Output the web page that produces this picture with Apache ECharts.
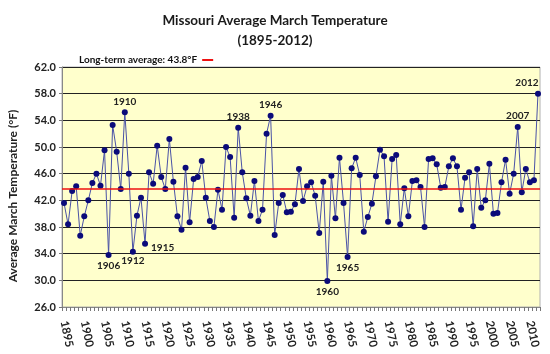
<!DOCTYPE html>
<html><head><meta charset="utf-8">
<script src="https://cdn.jsdelivr.net/npm/echarts@6/dist/echarts.min.js"></script>
<style>html,body{margin:0;padding:0;background:#fff}#c{width:550px;height:354px}</style>
</head><body><div id="c"></div>
<script>
const years = [];
for (let y = 1895; y <= 2012; y++) years.push(String(y));
const temps = [
41.6,38.4,43.4,44.1,36.7,39.6,42.0,44.6,46.0,44.2,
49.5,33.8,53.3,49.3,43.7,55.2,46.0,34.3,39.7,42.4,
35.5,46.2,44.5,50.2,45.5,43.7,51.2,44.8,39.6,37.6,
46.9,38.7,45.2,45.5,47.9,42.4,38.9,38.0,43.6,40.6,
50.0,48.5,39.4,52.9,46.2,42.3,39.7,44.9,38.9,40.6,
52.0,54.7,36.8,41.6,42.8,40.2,40.3,41.4,46.7,41.9,
44.1,44.7,42.7,37.1,44.8,29.9,45.7,39.3,48.4,41.6,
33.5,46.8,48.4,45.8,37.3,39.5,41.5,45.6,49.6,48.6,
38.8,48.2,48.8,38.4,43.8,39.6,44.9,45.0,44.0,38.0,
48.2,48.3,47.4,43.9,44.0,47.1,48.3,47.1,40.6,45.4,
46.2,38.1,46.7,40.9,42.0,47.5,40.0,40.1,44.7,48.1,
43.0,46.0,53.0,43.2,46.7,44.7,45.0,58.0
];
const AVG = 43.8;
const avgName = 'Long-term average: 43.8\u00B0F';
const labelled = {
  '1906': {position:'bottom', offset:[0,0]},
  '1910': {position:'top', offset:[0,0]},
  '1912': {position:'bottom', offset:[0,-2]},
  '1915': {position:'right', offset:[0,4]},
  '1938': {position:'top', offset:[0,0]},
  '1946': {position:'top', offset:[0,0]},
  '1960': {position:'bottom', offset:[0,0]},
  '1965': {position:'bottom', offset:[0,0]},
  '2007': {position:'top', offset:[0,0]},
  '2012': {position:'top', offset:[-11,0]}
};
const seriesData = temps.map((v, i) => {
  const y = years[i];
  if (labelled[y]) {
    return {value: v, label: {show: true, formatter: y, position: labelled[y].position, offset: labelled[y].offset,
      fontFamily: 'Lato', fontWeight: 'bold', fontSize: 10, color: '#222', distance: 3}};
  }
  return v;
});
const chart = echarts.init(document.getElementById('c'), null, {renderer: 'canvas'});
chart.setOption({
  backgroundColor: '#fff',
  animation: false,
  title: {
    text: 'Missouri Average March Temperature\n(1895-2012)',
    left: 'center', top: 6,
    textStyle: {fontFamily: 'Lato', fontWeight: 'bold', fontSize: 13.5, color: '#1a1a1a', lineHeight: 20}
  },
  legend: {
    data: [avgName], left: 74, top: 50, align: 'right',
    itemWidth: 11, itemHeight: 2, icon: 'rect', itemGap: 4,
    textStyle: {fontFamily: 'Lato', fontSize: 10, color: '#111', fontWeight: 'bold'}
  },
  grid: {left: 62, right: 10, top: 67, bottom: 47, show: true, backgroundColor: '#FFFFCC', borderColor: '#b0b0b0', borderWidth: 1, containLabel: false, outerBoundsMode: 'none'},
  xAxis: {
    type: 'category', data: years, boundaryGap: true,
    axisLine: {lineStyle: {color: '#888', width: 1}},
    axisTick: {show: true, interval: 0, length: 4, lineStyle: {color: '#777'}},
    axisLabel: {show: true, interval: 4, rotate: -78, fontFamily: 'Lato', fontWeight: 'bold', fontSize: 11.5, color: '#222', margin: 14, hideOverlap: false},
    splitLine: {show: false}
  },
  yAxis: {
    type: 'value', min: 26, max: 62, interval: 4,
    name: 'Average March Temperature (\u00B0F)', nameLocation: 'middle', nameGap: 43,
    nameTextStyle: {fontFamily: 'Lato', fontWeight: 'bold', fontSize: 12, color: '#222', padding: [0, 18, 0, 0]},
    axisLine: {show: true, lineStyle: {color: '#888'}},
    axisTick: {show: true, length: 3, lineStyle: {color: '#777'}},
    axisLabel: {formatter: v => v.toFixed(1), fontFamily: 'Lato', fontWeight: 'bold', fontSize: 11, color: '#222', margin: 6},
    splitLine: {show: true, lineStyle: {color: '#222', width: 1}}
  },
  series: [
    {
      name: 'temp', type: 'line', data: seriesData,
      symbol: 'circle', symbolSize: 6, showAllSymbol: true,
      lineStyle: {color: '#4a52a6', width: 1},
      itemStyle: {color: '#0b0b7a', borderWidth: 0},
      z: 3
    },
    {
      name: avgName, type: 'line', data: [],
      color: '#ee1111', lineStyle: {color: '#ee1111'},
      markLine: {silent: true, symbol: 'none', label: {show: false},
        lineStyle: {color: '#ee1111', width: 1.6, type: 'solid'},
        data: [{yAxis: AVG}]},
      z: 2
    }
  ]
});
</script></body></html>
